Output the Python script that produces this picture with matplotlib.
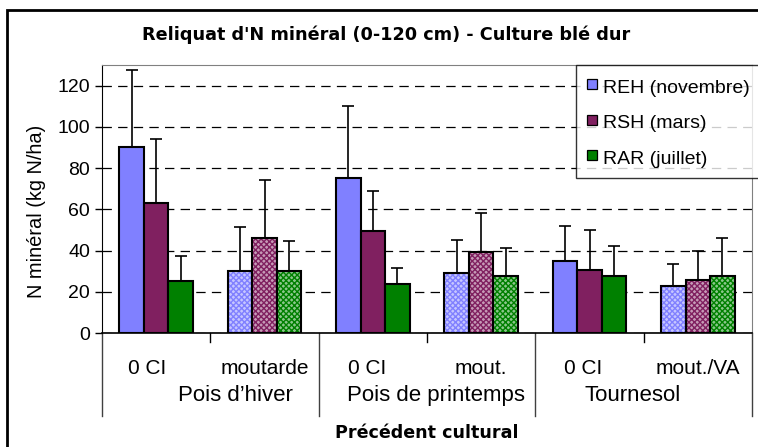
import numpy as np
import matplotlib
matplotlib.use("Agg")
import matplotlib.pyplot as plt
import matplotlib.transforms as mtransforms
from matplotlib.patches import Rectangle
from matplotlib.lines import Line2D
from matplotlib.colors import to_rgb

plt.rcParams['font.family'] = ['Liberation Sans', 'DejaVu Sans']

# data
sub_labels = ["0 CI", "moutarde", "0 CI", "mout.", "0 CI", "mout./VA"]
group_labels = ["Pois d\u2019hiver", "Pois de printemps", "Tournesol"]
series = ["REH (novembre)", "RSH (mars)", "RAR (juillet)"]
reh = [90, 30, 75, 29, 35, 23]
rsh = [63, 46, 49.5, 39.5, 30.5, 25.5]
rar = [25, 30, 24, 27.5, 27.5, 27.5]
reh_err = [37.5, 21.5, 35, 16, 17, 10.5]
rsh_err = [31, 28, 19.5, 18.5, 19.5, 14.5]
rar_err = [12.5, 14.5, 7.5, 13.5, 14.5, 18.5]
hatched = [False, True, False, True, False, True]
colors = ['#8080FF', '#802060', '#008000']

# small pixel nudges of the category labels, as in the original
sub_dx = [-9, 0, -6, 0, -6, 0]
group_dx = [25, 9, -11]

fig = plt.figure(figsize=(7.58, 4.47), dpi=100)
ax = fig.add_axes([102/758, 1-333/447, 650/758, 268/447])

values = [reh, rsh, rar]
errs = [reh_err, rsh_err, rar_err]
w = 0.226
x = np.arange(6) + 0.5
for k in range(3):
    pos = x + (k - 1) * w
    for i in range(6):
        c = colors[k]
        if hatched[i]:
            light = tuple(0.55 + 0.45 * v for v in to_rgb(c))
            ax.bar(pos[i], values[k][i], w, color=light, edgecolor=c,
                   hatch='xxxxxx', linewidth=0, zorder=2)
            ax.bar(pos[i], values[k][i], w, fill=False, edgecolor='black',
                   linewidth=1.5, zorder=3)
        else:
            ax.bar(pos[i], values[k][i], w, color=c, edgecolor='black',
                   linewidth=1.5, zorder=3)
    ax.errorbar(pos, values[k], yerr=[np.zeros(6), errs[k]], fmt='none',
                ecolor='black', elinewidth=1.2, capsize=4.3, capthick=1.2, zorder=4)

ax.set_xlim(0, 6)
ax.set_ylim(0, 130)
ax.set_yticks(np.arange(0, 121, 20))
ax.tick_params(axis='y', labelsize=14, length=5, width=1, direction='out')
ax.set_xticks([])
ax.yaxis.grid(True, linestyle=(0, (7.5, 5)), color='black', linewidth=0.9)
ax.set_axisbelow(True)
for s in ['top', 'right']:
    ax.spines[s].set_color('#808080')
ax.spines['bottom'].set_linewidth(1.2)

# category axis
xt = ax.get_xaxis_transform()
for i, lab in enumerate(sub_labels):
    tr = xt + mtransforms.ScaledTranslation(sub_dx[i] / 100, 0, fig.dpi_scale_trans)
    ax.text(x[i], -0.133, lab, transform=tr, ha='center', va='center', fontsize=15)
for j, lab in enumerate(group_labels):
    tr = xt + mtransforms.ScaledTranslation(group_dx[j] / 100, 0, fig.dpi_scale_trans)
    ax.text(2 * j + 1, -0.232, lab, transform=tr, ha='center', va='center', fontsize=16)
for b in [1, 3, 5]:
    ax.plot([b, b], [0, -0.034], transform=xt, color='black', linewidth=1, clip_on=False)
for b in [0, 2, 4, 6]:
    ax.plot([b, b], [0, -0.31], transform=xt, color='#404040', linewidth=1, clip_on=False)

ax.set_ylabel("N min\u00e9ral (kg N/ha)", fontsize=14.4)
ax.yaxis.set_label_coords(46/758, 1-211/447, transform=fig.transFigure)
fig.text(427/758, 1-433/447, "Pr\u00e9c\u00e9dent cultural", ha='center', va='center',
         fontsize=12.6, fontweight='bold', family='DejaVu Sans')
fig.text(386/758, 1-35/447, "Reliquat d'N min\u00e9ral (0-120 cm) - Culture bl\u00e9 dur",
         ha='center', va='center', fontsize=12.7, fontweight='bold', family='DejaVu Sans')

handles = [Line2D([], [], linestyle='none', marker='s', markersize=7, markerfacecolor=c,
                  markeredgecolor='black', markeredgewidth=0.9) for c in colors]
leg = ax.legend(handles, series, loc='upper left', bbox_to_anchor=(576/758, 1-65/447),
                bbox_transform=fig.transFigure, fontsize=14, frameon=True, fancybox=False,
                handlelength=0.5, handleheight=1.25, handletextpad=0.35, labelspacing=0.76,
                borderpad=0.55, borderaxespad=0)
leg.get_frame().set_edgecolor('black')
leg.get_frame().set_linewidth(1)

fig.patches.append(Rectangle((7/758, -0.05), 1, 1 - 10/447 + 0.05, transform=fig.transFigure,
                             fill=False, edgecolor='black', linewidth=2))

fig.savefig("out.png", dpi=100)
